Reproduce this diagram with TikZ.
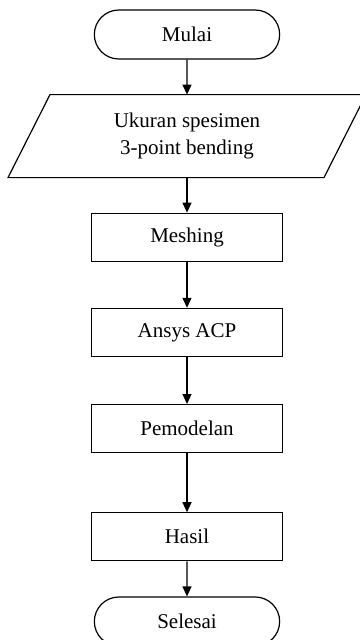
\documentclass[tikz,border=0pt]{standalone}
\usepackage{fontspec}
\setmainfont{Liberation Serif}
\usetikzlibrary{positioning, arrows.meta, shapes.misc}

\tikzset{
  terminal/.style={draw, rounded rectangle, line width=1.2pt,
    minimum width=192pt, minimum height=49pt},
  process/.style={draw, rectangle, line width=1.2pt,
    minimum width=191pt, minimum height=48pt},
  datainput/.style={rectangle, align=center, outer sep=0pt,
    minimum width=358pt, minimum height=83pt},
  flowarrow/.style={line width=1.2pt, -{Triangle[length=10pt, width=9pt]}}
}

\begin{document}
\begin{tikzpicture}[font=\fontsize{21}{27}\selectfont]
    \useasboundingbox (0,0) rectangle (359pt,-640pt);
    % flowchart, top to bottom
    \node[terminal] (mulai) at (187pt,-34.5pt) {Mulai};
    \node[datainput, below=35pt of mulai] (ukuran) {Ukuran spesimen\\3-point bending};
    \draw[line width=1.2pt] ([xshift=42pt]ukuran.north west) -- (ukuran.north east)
      -- ([xshift=-42pt]ukuran.south east) -- (ukuran.south west) -- cycle;
    \node[process, below=35pt of ukuran] (meshing) {Meshing};
    \node[process, below=46pt of meshing] (ansys) {Ansys ACP};
    \node[process, below=47pt of ansys] (model) {Pemodelan};
    \node[process, below=59pt of model] (hasil) {Hasil};
    \node[terminal, below=35pt of hasil] (selesai) {Selesai};

    \draw[flowarrow] (mulai) -- (ukuran);
    \draw[flowarrow] (ukuran) -- (meshing);
    \draw[flowarrow] (meshing) -- (ansys);
    \draw[flowarrow] (ansys) -- (model);
    \draw[flowarrow] (model) -- (hasil);
    \draw[flowarrow] (hasil) -- (selesai);
  \end{tikzpicture}
\end{document}
